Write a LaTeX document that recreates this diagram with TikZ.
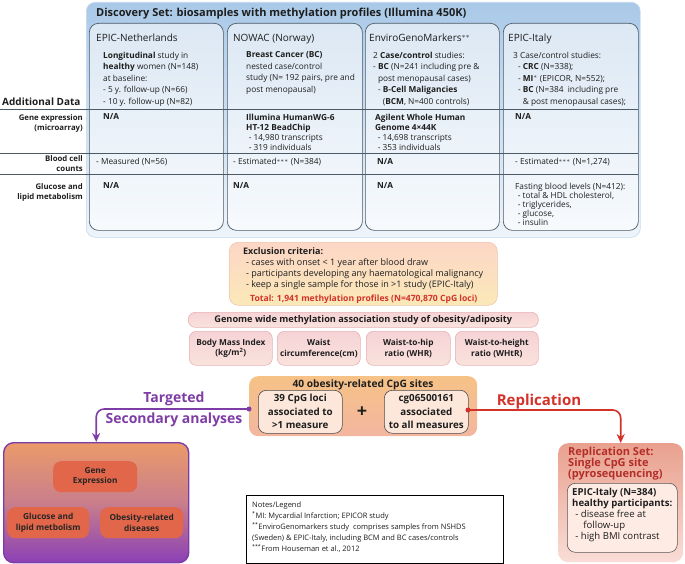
\documentclass[tikz,border=0pt]{standalone}
\usepackage{fontspec}
\setmainfont{Open Sans}
\usetikzlibrary{arrows.meta}
\definecolor{outerTop}{HTML}{A9C9E8}
\definecolor{outerBot}{HTML}{EEF4FA}
\definecolor{colTop}{HTML}{DCE8F4}
\definecolor{colBot}{HTML}{F7FAFD}
\definecolor{colLine}{HTML}{4D5A66}
\definecolor{exTop}{HTML}{FCD6C6}
\definecolor{exBot}{HTML}{FBE9B8}
\definecolor{exLine}{HTML}{F1C4AB}
\definecolor{pinkTop}{HTML}{F6D3D6}
\definecolor{pinkBot}{HTML}{F9E2DC}
\definecolor{pinkLine}{HTML}{E8B2B6}
\definecolor{cpgTop}{HTML}{F6C286}
\definecolor{cpgBot}{HTML}{F3B6A0}
\definecolor{cpgIn}{HTML}{FCE7DA}
\definecolor{purp}{HTML}{7E3DA6}
\definecolor{redc}{HTML}{D3322A}
\definecolor{darkred}{HTML}{B32E28}
\definecolor{secTop}{HTML}{EB9A6A}
\definecolor{secMid}{HTML}{C97E8C}
\definecolor{secBot}{HTML}{8B40B6}
\definecolor{secIn}{HTML}{E2664A}
\definecolor{repTop}{HTML}{E9A08E}
\definecolor{repBot}{HTML}{F9DDD6}
\definecolor{repIn}{HTML}{FDEBE4}
\definecolor{txt}{HTML}{1E1E1E}
\tikzset{
  boxbase/.style={anchor=north west, inner sep=0, rounded corners=9pt},
  outerbox/.style={boxbase, top color=outerTop, bottom color=outerBot, draw=outerTop!70!white, line width=0.6pt},
  colbox/.style={boxbase, top color=colTop, bottom color=colBot, draw=colLine, line width=0.7pt},
  exbox/.style={boxbase, top color=exTop, bottom color=exBot, draw=exLine, line width=0.6pt},
  pinkbox/.style={boxbase, rounded corners=7pt, top color=pinkTop, bottom color=pinkBot, draw=pinkLine, line width=0.6pt},
  cpgbox/.style={boxbase, top color=cpgTop, bottom color=cpgBot},
  cpginner/.style={boxbase, rounded corners=8pt, fill=cpgIn, draw=black!70, line width=0.6pt},
  secbox/.style={boxbase, rounded corners=10pt, top color=secTop, bottom color=secBot, middle color=secMid, draw=purp, line width=1.4pt},
  secinner/.style={boxbase, rounded corners=8pt, fill=secIn},
  repbox/.style={boxbase, rounded corners=10pt, top color=repTop, bottom color=repBot},
  repinner/.style={boxbase, rounded corners=8pt, fill=repIn, draw=black!65, line width=0.6pt},
  notebox/.style={anchor=north west, inner sep=0, draw=black, line width=0.6pt, fill=white},
  tx/.style={anchor=north west, inner sep=0, align=left, text=txt, font=\fontsize{8.3}{11.5}\selectfont},
  one/.style={anchor=base west, inner sep=0, text=txt, font=\fontsize{8.3}{10}\selectfont},
  lbl/.style={anchor=north east, inner sep=0, align=right, text=txt, font=\bfseries\fontsize{7.8}{10}\selectfont},
  colhead/.style={anchor=base west, inner sep=0, text=txt, font=\fontsize{10}{12}\selectfont},
  ctr/.style={inner sep=0, align=center, text=txt, font=\bfseries\fontsize{8.3}{10.5}\selectfont},
  rowline/.style={draw=colLine, line width=0.6pt},
  dot/.style={circle, inner sep=0, minimum size=5pt},
  flow/.style={line width=1.6pt, rounded corners=8pt, -{Stealth[length=9pt,width=8pt]}},
}
\begin{document}
\begin{tikzpicture}[x=1pt,y=-1pt]
\useasboundingbox (0,0) rectangle (685,564);

% ---------- Discovery set ----------
\node[outerbox, minimum width=554pt, minimum height=235pt] (outer) at (86,2) {};
\node[anchor=base west, inner sep=0, text=txt, font=\bfseries\fontsize{11}{13}\selectfont] (title) at (96,17) {Discovery Set: biosamples with methylation profiles (Illumina 450K)};

\node[colbox, minimum width=134pt, minimum height=207pt] (c1) at (89,23) {};
\node[colbox, minimum width=135pt, minimum height=207pt] (c2) at (227,23) {};
\node[colbox, minimum width=134pt, minimum height=207pt] (c3) at (365,23) {};
\node[colbox, minimum width=135pt, minimum height=207pt] (c4) at (503,23) {};

\node[colhead] (h1) at (96,42) {EPIC-Netherlands};
\node[colhead] (h2) at (233,42) {NOWAC (Norway)};
\node[colhead] (h3) at (369,42) {EnviroGenoMarkers$^{**}$};
\node[colhead] (h4) at (508,42) {EPIC-Italy};

\node[tx] (d1) at (103,51.5) {\textbf{Longitudinal} study in\\\textbf{healthy} women (N=148)\\at baseline:\\- 5 y. follow-up (N=66)\\- 10 y. follow-up (N=82)};
\node[tx] (d2) at (246,51.5) {\textbf{Breast Cancer (BC)}\\nested case/control\\study (N= 192 pairs, pre and\\post menopausal)};
\node[tx] (d3) at (373,51.5) {2 \textbf{Case/control} studies:\\- \textbf{BC} (N=241 including pre \&\\\hphantom{- }post menopausal cases)\\\hphantom{- }- \textbf{B-Cell Maligancies}\\\hphantom{- - }(\textbf{BCM}, N=400 controls)};
\node[tx] (d4) at (513,51.5) {3 Case/control studies:\\\hphantom{- }- \textbf{CRC} (N=338);\\\hphantom{- }- \textbf{MI}$^{*}$ (EPICOR, N=552);\\\hphantom{- }- \textbf{BC} (N=384\ \ including pre\\\hphantom{- - }\& post menopausal cases);};

% row separators
\coordinate (l1a) at (0,109); \coordinate (l1b) at (638,109);
\coordinate (l2a) at (0,153); \coordinate (l2b) at (638,153);
\coordinate (l3a) at (0,174); \coordinate (l3b) at (638,174);
\draw[rowline] (l1a) -- (l1b);
\draw[rowline] (l2a) -- (l2b);
\draw[rowline] (l3a) -- (l3b);

\node[anchor=base west, inner sep=0, text=txt, font=\bfseries\fontsize{10}{12}\selectfont] (addl) at (2,106) {Additional Data};
\node[lbl] (lg) at (83,114) {Gene expression\\(microarray)};
\node[lbl] (lb) at (83,155) {Blood cell\\counts};
\node[lbl] (lm) at (83,183) {Glucose and\\lipid metabolism};

% row 1
\node[one] (g1) at (103,120) {\textbf{N/A}};
\node[tx, font=\fontsize{8.3}{10}\selectfont] (g2) at (246,113.7) {\textbf{Illumina HumanWG-6}\\\textbf{HT-12 BeadChip}\\\hphantom{-}- 14,980 transcripts\\\hphantom{-}- 319 individuals};
\node[tx, font=\fontsize{8.3}{10}\selectfont] (g3) at (375,113.7) {\textbf{Agilent Whole Human}\\\textbf{Genome 4×44K}\\\hphantom{-}- 14,698 transcripts\\\hphantom{-}- 353 individuals};
\node[one] (g4) at (515,120) {\textbf{N/A}};
% row 2
\node[one] (b1) at (96,165) {- Measured (N=56)};
\node[one] (b2) at (233,165) {- Estimated$^{***}$ (N=384)};
\node[one] (b3) at (377,165) {\textbf{N/A}};
\node[one] (b4) at (515,165) {- Estimated$^{***}$ (N=1,274)};
% row 3
\node[one] (m1) at (103,189) {\textbf{N/A}};
\node[one] (m2) at (233,189) {\textbf{N/A}};
\node[one] (m3) at (377,189) {\textbf{N/A}};
\node[tx, font=\fontsize{8.3}{9}\selectfont] (m4) at (515,182.7) {Fasting blood levels (N=412):\\\hphantom{-}- total \& HDL cholesterol,\\\hphantom{-}- triglycerides,\\\hphantom{-}- glucose,\\\hphantom{-}- insulin};

% ---------- Exclusion ----------
\node[exbox, minimum width=268pt, minimum height=63pt] (ex) at (229,242) {};
\node[tx, font=\fontsize{9}{11}\selectfont] (ext) at (243,247.3) {\textbf{Exclusion criteria:}\\\hphantom{-}- cases with onset < 1 year after blood draw\\\hphantom{-}- participants developing any haematological malignancy\\\hphantom{-}- keep a single sample for those in >1 study (EPIC-Italy)};
\node[anchor=base west, inner sep=0, text=redc, font=\bfseries\fontsize{8.6}{10}\selectfont] (total) at (250,301) {Total: 1,941 methylation profiles (N=470,870 CpG loci)};

% ---------- GWAS ----------
\node[pinkbox, minimum width=350pt, minimum height=15pt] (gw) at (188,312) {};
\node[ctr, font=\bfseries\fontsize{9.2}{10}\selectfont] at (gw.center) {Genome wide methylation association study of obesity/adiposity};

\node[pinkbox, minimum width=83pt, minimum height=34pt] (ms1) at (189,331) {};
\node[pinkbox, minimum width=83pt, minimum height=34pt] (ms2) at (277,331) {};
\node[pinkbox, minimum width=84pt, minimum height=34pt] (ms3) at (366,331) {};
\node[pinkbox, minimum width=83pt, minimum height=34pt] (ms4) at (455,331) {};
\node[ctr] at (ms1.center) {Body Mass Index\\(kg/m\textsuperscript{2})};
\node[ctr] at (ms2.center) {Waist\\circumference(cm)};
\node[ctr] at (ms3.center) {Waist-to-hip\\ratio (WHR)};
\node[ctr] at (ms4.center) {Waist-to-height\\ratio (WHtR)};

% ---------- CpG sites ----------
\node[cpgbox, minimum width=228pt, minimum height=60pt] (cpg) at (249,376) {};
\node[anchor=base, inner sep=0, text=txt, font=\bfseries\fontsize{10.2}{12}\selectfont] (cpgt) at (363,387) {40 obesity-related CpG sites};
\node[cpginner, minimum width=84pt, minimum height=43pt] (cA) at (258,390) {};
\node[cpginner, minimum width=84pt, minimum height=43pt] (cB) at (384,390) {};
\node[ctr, font=\bfseries\fontsize{9.8}{13.5}\selectfont] at (cA.center) {39 CpG loci\\associated to\\>1 measure};
\node[ctr, font=\bfseries\fontsize{9.8}{13.5}\selectfont] at (cB.center) {cg06500161\\associated\\to all measures};
\node[inner sep=0, text=txt, font=\bfseries\fontsize{18}{18}\selectfont] (plus) at (362,412) {+};

% ---------- Secondary analyses ----------
\node[secbox, minimum width=185pt, minimum height=120pt] (sec) at (3,442) {};
\node[secinner, minimum width=84pt, minimum height=31pt] (s1) at (53,461) {};
\node[secinner, minimum width=82pt, minimum height=31pt] (s2) at (7,507) {};
\node[secinner, minimum width=83pt, minimum height=31pt] (s3) at (100,507) {};
\node[ctr, text=black!85] at (s1.center) {Gene\\Expression};
\node[ctr, text=black!85] at (s2.center) {Glucose and\\lipid metbolism};
\node[ctr, text=black!85] at (s3.center) {Obesity-related\\diseases};

% ---------- Replication ----------
\node[repbox, minimum width=125pt, minimum height=119pt] (rep) at (558,443) {};
\node[anchor=north west, inner sep=0, align=left, text=darkred, font=\bfseries\fontsize{11}{11}\selectfont] (rept) at (568,447) {Replication Set:\\Single CpG site\\(pyrosequencing)};
\node[repinner, minimum width=110pt, minimum height=69pt] (repi) at (567,483) {};
\node[tx, font=\fontsize{9.6}{11}\selectfont] (repit) at (572,488) {\textbf{EPIC-Italy (N=384)}\\\textbf{healthy participants:}\\\hphantom{-}- disease free at\\\hphantom{- - }follow-up\\\hphantom{-}- high BMI contrast};

% ---------- Notes ----------
\node[notebox, minimum width=257pt, minimum height=68pt] (notes) at (246,495) {};
\node[tx, font=\fontsize{7.5}{11}\selectfont] (notest) at (252,501.3) {Notes/Legend\\\textsuperscript{*}MI: Mycardial Infarction; EPICOR study\\\textsuperscript{**}EnviroGenomarkers study\ \ comprises samples from NSHDS\\(Sweden) \& EPIC-Italy, including BCM and BC cases/controls\\\textsuperscript{***}From Houseman et al., 2012};

% ---------- Flows ----------
\node[anchor=base, inner sep=0, text=purp, font=\bfseries\fontsize{14}{16}\selectfont] (targ) at (174,402) {Targeted};
\node[anchor=base, inner sep=0, text=purp, font=\bfseries\fontsize{14}{16}\selectfont] (seca) at (174,423) {Secondary analyses};
\node[anchor=base, inner sep=0, text=redc, font=\bfseries\fontsize{15}{16}\selectfont] (repl) at (539,405) {Replication};

\node[dot, fill=purp] (dL) at (249,409) {};
\node[dot, fill=redc] (dR) at (468,410) {};
\draw[flow, draw=purp] (dL.center) -| (sec.north);
\draw[flow, draw=redc] (dR.center) -| (rep.north);
\end{tikzpicture}
\end{document}
